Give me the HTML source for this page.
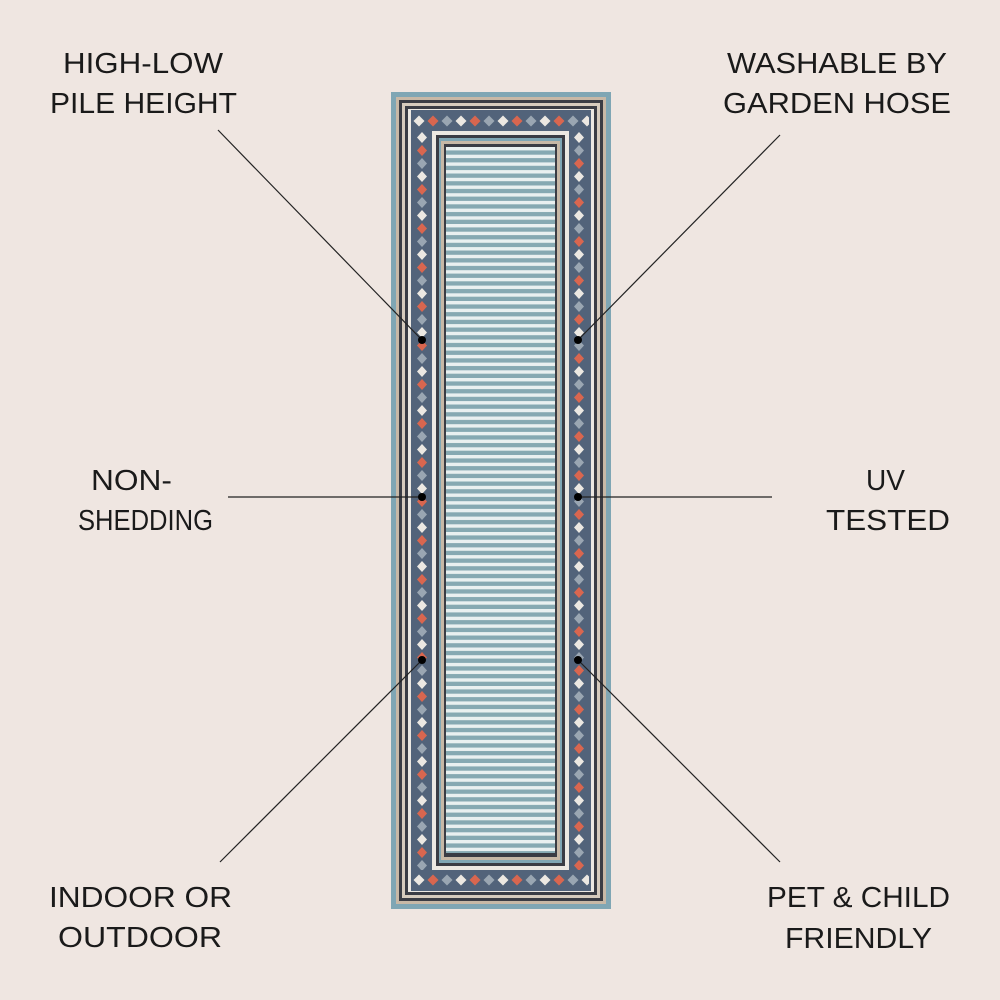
<!DOCTYPE html>
<html><head><meta charset="utf-8"><style>
html,body{margin:0;padding:0;background:#efe6e1;}
svg{display:block}
text{font-family:"Liberation Sans",sans-serif;font-size:29px;fill:#1a1a1a;}
</style></head><body>
<svg width="1000" height="1000" viewBox="0 0 1000 1000">
<defs>
<pattern id="stripes" x="0" y="147" width="10" height="7.7" patternUnits="userSpaceOnUse">
<rect width="10" height="7.7" fill="#86a9b2"/>
<rect y="0" width="10" height="3.4" fill="#e9f0f0"/>
</pattern>
<pattern id="dvl" x="412" y="131" width="20" height="39" patternUnits="userSpaceOnUse">
<rect width="20" height="39" fill="#52637a"/>
<path d="M10 1 L15 6.5 L10 12 L5 6.5Z" fill="#ece8e2"/>
<path d="M10 14 L15 19.5 L10 25 L5 19.5Z" fill="#d9664f"/>
<path d="M10 27 L15 32.5 L10 38 L5 32.5Z" fill="#9aa6b2"/>
</pattern>
<pattern id="dvr" x="569" y="131" width="20" height="39" patternUnits="userSpaceOnUse">
<rect width="20" height="39" fill="#52637a"/>
<path d="M10 1 L15 6.5 L10 12 L5 6.5Z" fill="#ece8e2"/>
<path d="M10 14 L15 19.5 L10 25 L5 19.5Z" fill="#9aa6b2"/>
<path d="M10 27 L15 32.5 L10 38 L5 32.5Z" fill="#d9664f"/>
</pattern>
<pattern id="dht" x="412" y="111" width="42" height="20" patternUnits="userSpaceOnUse">
<rect width="42" height="20" fill="#52637a"/>
<path d="M7 4.5 L12.5 10 L7 15.5 L1.5 10Z" fill="#ece8e2"/>
<path d="M21 4.5 L26.5 10 L21 15.5 L15.5 10Z" fill="#d9664f"/>
<path d="M35 4.5 L40.5 10 L35 15.5 L29.5 10Z" fill="#9aa6b2"/>
</pattern>
<pattern id="dhb" x="412" y="870" width="42" height="20" patternUnits="userSpaceOnUse">
<rect width="42" height="20" fill="#52637a"/>
<path d="M7 4.5 L12.5 10 L7 15.5 L1.5 10Z" fill="#ece8e2"/>
<path d="M21 4.5 L26.5 10 L21 15.5 L15.5 10Z" fill="#d9664f"/>
<path d="M35 4.5 L40.5 10 L35 15.5 L29.5 10Z" fill="#9aa6b2"/>
</pattern>
</defs>
<rect width="1000" height="1000" fill="#efe6e1"/>
<rect x="391" y="92" width="220" height="817" fill="#7fa6b4"/>
<rect x="396" y="97" width="210" height="807" fill="#c7b8a6"/>
<rect x="399" y="100" width="204" height="801" fill="#3a3c44"/>
<rect x="402" y="103" width="198" height="795" fill="#d6cbbd"/>
<rect x="405" y="106" width="192" height="789" fill="#3a3c44"/>
<rect x="408" y="109" width="186" height="783" fill="#ece8e2"/>
<rect x="411" y="110" width="180" height="781" fill="#52637a"/>
<rect x="412" y="131" width="20" height="739" fill="url(#dvl)"/>
<rect x="569" y="131" width="20" height="739" fill="url(#dvr)"/>
<rect x="412" y="111" width="177" height="20" fill="url(#dht)"/>
<rect x="412" y="870" width="177" height="20" fill="url(#dhb)"/>
<rect x="432" y="131" width="137" height="739" fill="#ece8e2"/>
<rect x="436" y="135" width="129" height="731" fill="#3a3c44"/>
<rect x="439" y="138" width="123" height="725" fill="#7fa6b4"/>
<rect x="441" y="141" width="119" height="719" fill="#c7b8a6"/>
<rect x="444" y="144" width="113" height="713" fill="#3a3c44"/>
<rect x="446" y="147" width="109" height="706" fill="url(#stripes)"/>
<g stroke="#222" stroke-width="1.2" fill="none">
<line x1="218" y1="130" x2="422" y2="340"/>
<line x1="780" y1="135" x2="578" y2="340"/>
<line x1="228" y1="497" x2="422" y2="497"/>
<line x1="578" y1="497" x2="772" y2="497"/>
<line x1="220" y1="862" x2="422" y2="660"/>
<line x1="780" y1="862" x2="578" y2="660"/>
</g>
<g fill="#000">
<circle cx="422" cy="340" r="4"/><circle cx="578" cy="340" r="4"/>
<circle cx="422" cy="497" r="4"/><circle cx="578" cy="497" r="4"/>
<circle cx="422" cy="660" r="4"/><circle cx="578" cy="660" r="4"/>
</g>
<text x="63" y="73" textLength="160" lengthAdjust="spacingAndGlyphs">HIGH-LOW</text>
<text x="50" y="113" textLength="187" lengthAdjust="spacingAndGlyphs">PILE HEIGHT</text>
<text x="727" y="73" textLength="220" lengthAdjust="spacingAndGlyphs">WASHABLE BY</text>
<text x="723" y="113" textLength="228" lengthAdjust="spacingAndGlyphs">GARDEN HOSE</text>
<text x="91" y="490" textLength="81" lengthAdjust="spacingAndGlyphs">NON-</text>
<text x="78" y="530" textLength="135" lengthAdjust="spacingAndGlyphs">SHEDDING</text>
<text x="866" y="490" textLength="39" lengthAdjust="spacingAndGlyphs">UV</text>
<text x="826" y="530" textLength="124" lengthAdjust="spacingAndGlyphs">TESTED</text>
<text x="49" y="907" textLength="183" lengthAdjust="spacingAndGlyphs">INDOOR OR</text>
<text x="58" y="947" textLength="164" lengthAdjust="spacingAndGlyphs">OUTDOOR</text>
<text x="767" y="907" textLength="183" lengthAdjust="spacingAndGlyphs">PET &amp; CHILD</text>
<text x="785" y="948" textLength="147" lengthAdjust="spacingAndGlyphs">FRIENDLY</text>
</svg>
</body></html>
